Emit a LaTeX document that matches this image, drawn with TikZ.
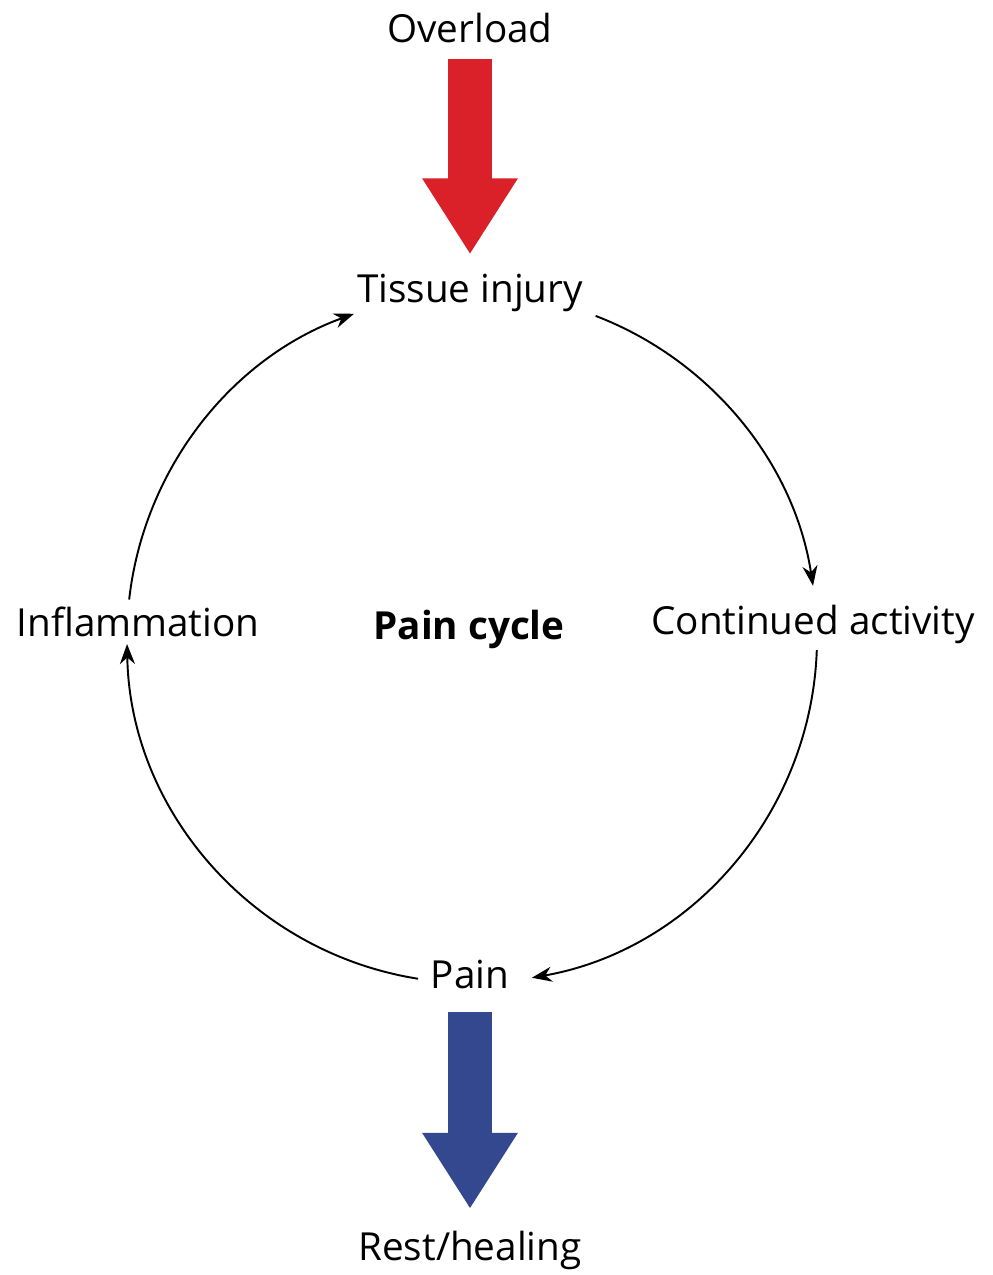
\documentclass[tikz,border=0pt]{standalone}
\usepackage{fontspec}
\setmainfont{Open Sans}
\usetikzlibrary{arrows.meta}
\definecolor{overloadred}{RGB}{218,32,40}
\definecolor{restblue}{RGB}{52,72,143}
\begin{document}
\begin{tikzpicture}[x=0.1mm, y=0.1mm,
  lbl/.style={font=\fontsize{11}{13}\selectfont, inner sep=0pt},
  cyc/.style={line width=0.55pt, -{Stealth[length=2mm, width=1.5mm]}},
  bigarrow/.style={line width=4.4mm, -{Triangle[length=7.6mm, width=9mm]}}]
\useasboundingbox (0,0) rectangle (992,1275);

\node[lbl] (over) at (470,1247) {Overload};
\node[lbl] (tissue) at (470,982) {Tissue injury};
\node[lbl] (infl) at (138,653) {Inflammation};
\node[lbl, font=\fontsize{11}{13}\selectfont\bfseries] (cycle) at (469,646) {Pain cycle};
\node[lbl] (activity) at (813,651) {Continued activity};
\node[lbl] (pain) at (470,300) {Pain};
\node[lbl] (rest) at (470,25) {Rest/healing};
\coordinate (c) at (472,637);

\draw[bigarrow, overloadred, shorten <=1.5mm, shorten >=1.9mm] (over) -- (tissue);
\draw[bigarrow, restblue, shorten <=2.2mm, shorten >=2.1mm] (pain) -- (rest);

\draw[cyc] (c) ++(69:345) arc[start angle=69, end angle=8.7, radius=345];
\draw[cyc] (c) ++(-2:345) arc[start angle=-2, end angle=-80, radius=345];
\draw[cyc] (c) ++(-99:345) arc[start angle=-99, end angle=-179, radius=345];
\draw[cyc] (c) ++(173.6:345) arc[start angle=173.6, end angle=110, radius=345];
\end{tikzpicture}
\end{document}
